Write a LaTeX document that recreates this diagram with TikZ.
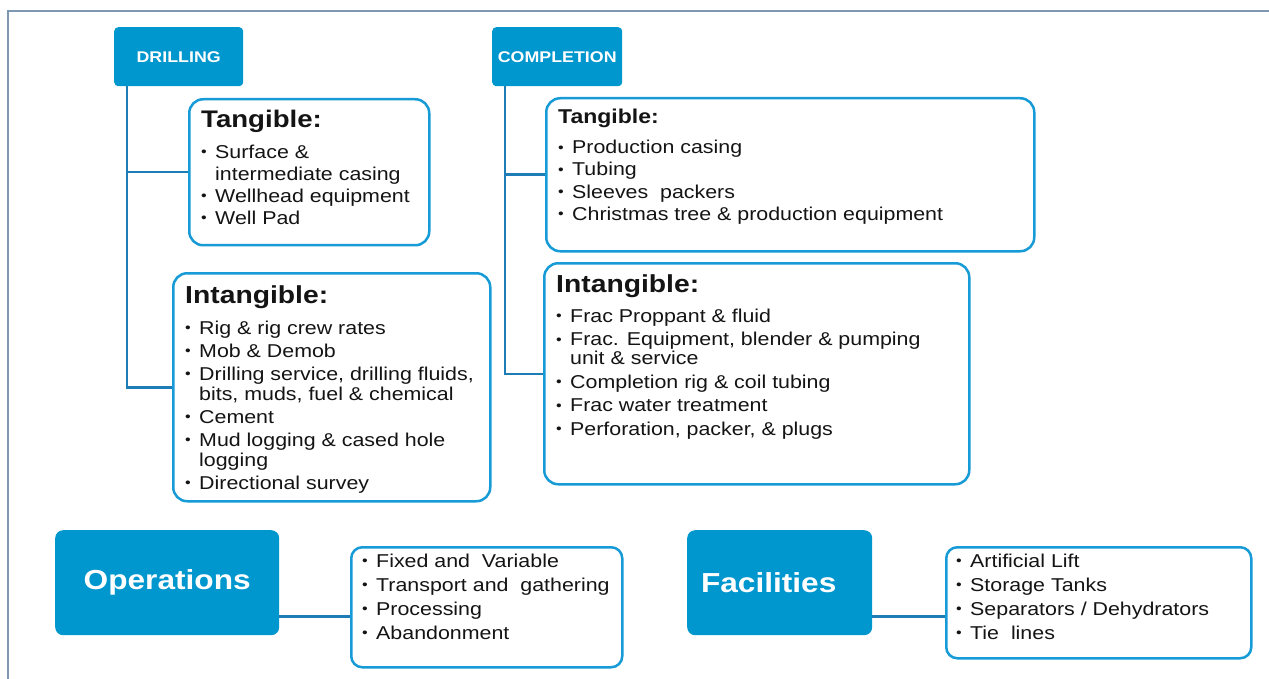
\documentclass[tikz,border=0pt]{standalone}
\usepackage{fontspec}
\setmainfont{Liberation Sans}[FakeStretch=1.15]
\usepackage{tikz}

\definecolor{headblue}{RGB}{0,150,206}
\definecolor{rimblue}{RGB}{22,155,214}
\definecolor{linkblue}{RGB}{30,125,182}
\definecolor{framegray}{RGB}{125,152,176}
\newcommand{\bul}{\makebox[14pt][l]{\raisebox{1.5pt}{\fontsize{14}{14}\selectfont •}}}
\newcommand{\ind}{\hspace*{14pt}}

\begin{document}
\begin{tikzpicture}[x=1pt, y=-1pt,
    head/.style={fill=headblue, rounded corners=4pt, inner sep=0pt, text=white,
        anchor=north west, font=\bfseries\fontsize{15.5}{15.5}\selectfont},
    bighead/.style={head, rounded corners=8pt, font=\bfseries\fontsize{27.5}{27.5}\selectfont},
    card/.style={draw=rimblue, line width=2.5pt, rounded corners=14pt, fill=white,
        inner sep=0pt, anchor=north west},
    items/.style={anchor=north west, inner sep=0pt, align=left, text=black!92},
    link/.style={draw=linkblue, line width=2.5pt}]
    \useasboundingbox (0,0) rectangle (1269,679);
    % Frame
    \draw[framegray, line width=2pt] (8,679) -- (8,11) -- (1269,11);

    % Drilling
    \node[head, minimum width=129, minimum height=59] (dril) at (114,27) {DRILLING};
    \node[card, minimum width=240, minimum height=146] (dtan) at (188,98) {};
    \node[card, minimum width=317, minimum height=228] (dint) at (172,272) {};
    \node[items, font=\fontsize{18.6}{22}\selectfont] (dtantxt) at (201,109.5) {%
        {\bfseries\fontsize{24}{24}\selectfont Tangible:}\\[9pt]
        \bul Surface \&\\
        \ind intermediate casing\\
        \bul Wellhead equipment\\
        \bul Well Pad};
    \node[items, font=\fontsize{18.6}{20}\selectfont] (dinttxt) at (185,285) {%
        {\bfseries\fontsize{24.6}{24.6}\selectfont Intangible:}\\[11.3pt]
        \bul Rig \& rig crew rates\\[3pt]
        \bul Mob \& Demob\\[3pt]
        \bul Drilling service, drilling fluids,\\
        \ind bits, muds, fuel \& chemical\\[3pt]
        \bul Cement\\[3pt]
        \bul Mud logging \& cased hole\\
        \ind logging\\[3pt]
        \bul Directional survey};

    % Completion
    \node[head, minimum width=130, minimum height=59] (comp) at (492,27) {COMPLETION};
    \node[card, minimum width=488, minimum height=153] (ctan) at (545,97) {};
    \node[card, minimum width=425, minimum height=221] (cint) at (543,262) {};
    \node[items, font=\fontsize{18.6}{22.2}\selectfont] (ctantxt) at (558,108.4) {%
        {\bfseries\fontsize{20}{20}\selectfont Tangible:}\\[8.4pt]
        \bul Production casing\\
        \bul Tubing\\
        \bul Sleeves\ \ packers\\
        \bul Christmas tree \& production equipment};
    \node[items, font=\fontsize{18.6}{19}\selectfont] (cinttxt) at (556,274) {%
        {\bfseries\fontsize{24.6}{24.6}\selectfont Intangible:}\\[11pt]
        \bul Frac Proppant \& fluid\\[4.5pt]
        \bul Frac. Equipment, blender \& pumping\\
        \ind unit \& service\\[4.5pt]
        \bul Completion rig \& coil tubing\\[4.5pt]
        \bul Frac water treatment\\[4.5pt]
        \bul Perforation, packer, \& plugs};

    % Operations and facilities
    \node[bighead, minimum width=224, minimum height=105] (ops) at (55,530) {Operations};
    \node[card, rounded corners=11pt, minimum width=271, minimum height=120] (oplist) at (350,546) {};
    \node[items, font=\fontsize{18.6}{24}\selectfont] (oplisttxt) at (362,553.4) {%
        \bul Fixed and\ \ Variable\\
        \bul Transport and\ \ gathering\\
        \bul Processing\\
        \bul Abandonment};
    \node[bighead, minimum width=185, minimum height=105] (fac) at (687,530) {Facilities\hspace*{22pt}};
    \node[card, rounded corners=11pt, minimum width=305, minimum height=111] (faclist) at (945,546) {};
    \node[items, font=\fontsize{18.6}{24}\selectfont] (faclisttxt) at (956,553.4) {%
        \bul Artificial Lift\\
        \bul Storage Tanks\\
        \bul Separators / Dehydrators\\
        \bul Tie\ \ lines};

    % Edges
    \draw[link] ([xshift=13pt]dril.south west) |- (dint.west);
    \draw[link] ([xshift=13pt]dril.south west) |- (dtan.west);
    \draw[link] ([xshift=13pt]comp.south west) |- (cint.west);
    \draw[link] ([xshift=13pt]comp.south west) |- (ctan.west);
    \draw[link] ([yshift=19pt]ops.south east) -- ([yshift=19pt]ops.south east -| oplist.west);
    \draw[link] ([yshift=19pt]fac.south east) -- ([yshift=19pt]fac.south east -| faclist.west);
\end{tikzpicture}
\end{document}
